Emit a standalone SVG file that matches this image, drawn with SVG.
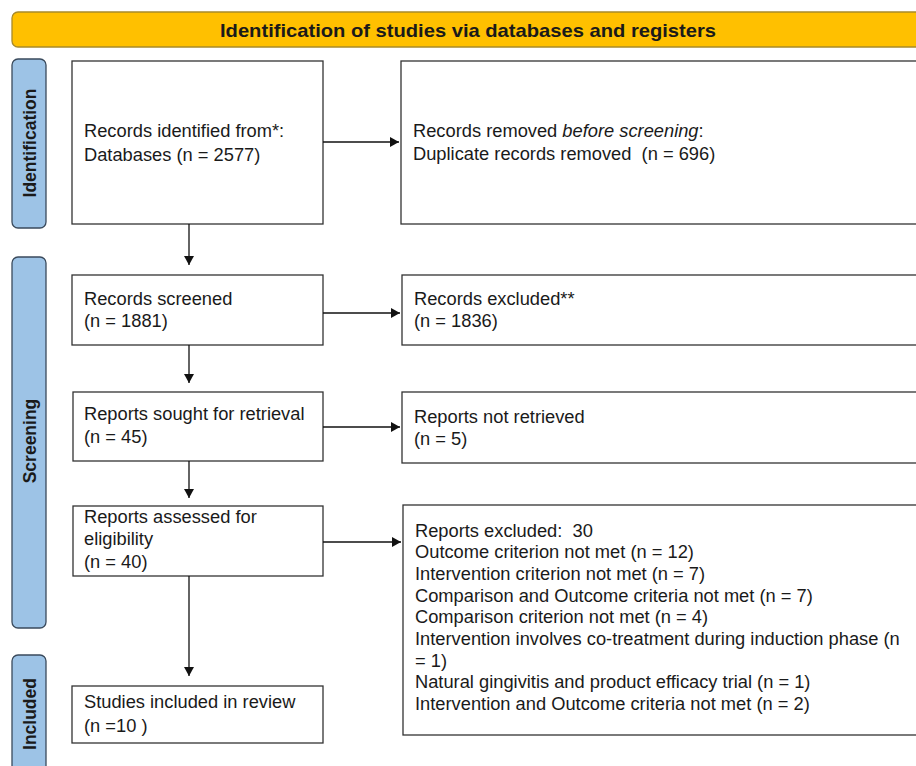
<svg xmlns="http://www.w3.org/2000/svg" width="916" height="766" viewBox="0 0 916 766">
<style>
.box{fill:#fff;stroke:#333;stroke-width:1.3}
.side{fill:#9DC3E6;stroke:#3A4A5C;stroke-width:1.3}
.t{font-family:"Liberation Sans",Arial,sans-serif;font-size:18.3px;fill:#1a1a1a}
.st{font-family:"Liberation Sans",Arial,sans-serif;font-size:17.5px;font-weight:bold;fill:#1a1a1a}
.ln{stroke:#111;stroke-width:1.3;fill:none;marker-end:url(#ah)}
</style>
<defs>
<marker id="ah" markerWidth="12" markerHeight="12" refX="9" refY="5" orient="auto" markerUnits="userSpaceOnUse">
<path d="M0,0 L9,5 L0,10 Z" fill="#111"/>
</marker>
</defs>
<rect width="916" height="766" fill="#fff"/>
<g id="banner">
<rect x="12" y="12" width="920" height="35" rx="6" fill="#FFC000" stroke="#A88A2A" stroke-width="1.3"/>
<text x="468" y="37" text-anchor="middle" class="st" style="font-size:19px" textLength="496" lengthAdjust="spacingAndGlyphs">Identification of studies via databases and registers</text>
</g>
<g id="side-identification">
<rect class="side" x="12" y="59" width="34" height="169" rx="6"/>
<text class="st" transform="translate(36,143) rotate(-90)" text-anchor="middle">Identification</text>
</g>
<g id="side-screening">
<rect class="side" x="12" y="257" width="34" height="371" rx="6"/>
<text class="st" transform="translate(36,441) rotate(-90)" text-anchor="middle">Screening</text>
</g>
<g id="side-included">
<rect class="side" x="12" y="655" width="34" height="120" rx="6"/>
<text class="st" transform="translate(36,714) rotate(-90)" text-anchor="middle">Included</text>
</g>
<g id="n-identified">
<rect class="box" x="72" y="61" width="251" height="163"/>
<text class="t" x="84" y="137">Records identified from*:</text>
<text class="t" x="84" y="161">Databases (n = 2577)</text>
</g>
<g id="n-removed">
<rect class="box" x="401" y="61" width="530" height="163"/>
<text class="t" x="413" y="137">Records removed <tspan font-style="italic">before screening</tspan>:</text>
<text class="t" x="413" y="160" xml:space="preserve">Duplicate records removed  (n = 696)</text>
</g>
<g id="n-screened">
<rect class="box" x="72" y="275" width="251" height="70"/>
<text class="t" x="84" y="305">Records screened</text>
<text class="t" x="84" y="327">(n = 1881)</text>
</g>
<g id="n-excluded">
<rect class="box" x="402" y="275" width="530" height="70"/>
<text class="t" x="414" y="305">Records excluded**</text>
<text class="t" x="414" y="327">(n = 1836)</text>
</g>
<g id="n-sought">
<rect class="box" x="73" y="392" width="250" height="69"/>
<text class="t" x="84" y="420">Reports sought for retrieval</text>
<text class="t" x="84" y="443">(n = 45)</text>
</g>
<g id="n-notretrieved">
<rect class="box" x="402" y="392" width="530" height="71"/>
<text class="t" x="414" y="423">Reports not retrieved</text>
<text class="t" x="414" y="445">(n = 5)</text>
</g>
<g id="n-assessed">
<rect class="box" x="73" y="506" width="250" height="70"/>
<text class="t" x="84" y="523">Reports assessed for</text>
<text class="t" x="84" y="545">eligibility</text>
<text class="t" x="84" y="568">(n = 40)</text>
</g>
<g id="n-reportsexcluded">
<rect class="box" x="403" y="505" width="530" height="230"/>
<text class="t" x="415" y="537" xml:space="preserve">Reports excluded:  30</text>
<text class="t" x="415" y="558">Outcome criterion not met (n = 12)</text>
<text class="t" x="415" y="580">Intervention criterion not met (n = 7)</text>
<text class="t" x="415" y="602">Comparison and Outcome criteria not met (n = 7)</text>
<text class="t" x="415" y="623">Comparison criterion not met (n = 4)</text>
<text class="t" x="415" y="645">Intervention involves co-treatment during induction phase (n</text>
<text class="t" x="415" y="667">= 1)</text>
<text class="t" x="415" y="688">Natural gingivitis and product efficacy trial (n = 1)</text>
<text class="t" x="415" y="710">Intervention and Outcome criteria not met (n = 2)</text>
</g>
<g id="n-included">
<rect class="box" x="72" y="686" width="251" height="57"/>
<text class="t" x="84" y="708">Studies included in review</text>
<text class="t" x="84" y="732">(n =10 )</text>
</g>
<g id="connectors">
<line class="ln" x1="323" y1="142" x2="399" y2="142"/>
<line class="ln" x1="189" y1="224" x2="189" y2="265"/>
<line class="ln" x1="323" y1="313" x2="400" y2="313"/>
<line class="ln" x1="189" y1="345" x2="189" y2="383"/>
<line class="ln" x1="323" y1="427" x2="400" y2="427"/>
<line class="ln" x1="189" y1="461" x2="189" y2="498"/>
<line class="ln" x1="323" y1="542" x2="401" y2="542"/>
<line class="ln" x1="189" y1="576" x2="189" y2="676"/>
</g>
</svg>
